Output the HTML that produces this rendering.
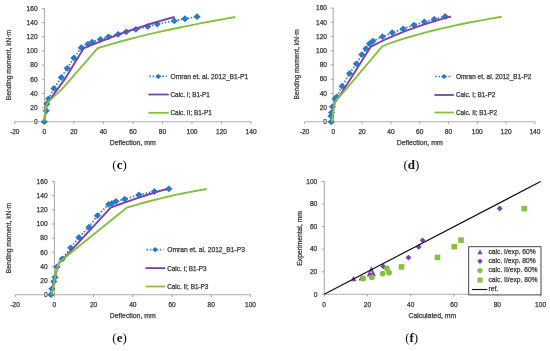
<!DOCTYPE html>
<html><head><meta charset="utf-8"><style>
html,body{margin:0;padding:0;background:#fff;}
svg{display:block;will-change:transform;}
text{font-family:"Liberation Sans", sans-serif;fill:#383838;stroke:#383838;stroke-width:0.25px;}
</style></head><body>
<svg width="550" height="351" viewBox="0 0 550 351">
<rect width="550" height="351" fill="#fff"/>
<line x1="44.5" y1="8.5" x2="44.5" y2="121.7" stroke="#acacac" stroke-width="1.1"/>
<line x1="41.9" y1="121.7" x2="44.5" y2="121.7" stroke="#acacac" stroke-width="1.1"/>
<text x="37.6" y="124" font-size="6.6" text-anchor="end">0</text>
<line x1="41.9" y1="107.55" x2="44.5" y2="107.55" stroke="#acacac" stroke-width="1.1"/>
<text x="37.6" y="109.85" font-size="6.6" text-anchor="end">20</text>
<line x1="41.9" y1="93.4" x2="44.5" y2="93.4" stroke="#acacac" stroke-width="1.1"/>
<text x="37.6" y="95.7" font-size="6.6" text-anchor="end">40</text>
<line x1="41.9" y1="79.25" x2="44.5" y2="79.25" stroke="#acacac" stroke-width="1.1"/>
<text x="37.6" y="81.55" font-size="6.6" text-anchor="end">60</text>
<line x1="41.9" y1="65.1" x2="44.5" y2="65.1" stroke="#acacac" stroke-width="1.1"/>
<text x="37.6" y="67.4" font-size="6.6" text-anchor="end">80</text>
<line x1="41.9" y1="50.95" x2="44.5" y2="50.95" stroke="#acacac" stroke-width="1.1"/>
<text x="37.6" y="53.25" font-size="6.6" text-anchor="end">100</text>
<line x1="41.9" y1="36.8" x2="44.5" y2="36.8" stroke="#acacac" stroke-width="1.1"/>
<text x="37.6" y="39.1" font-size="6.6" text-anchor="end">120</text>
<line x1="41.9" y1="22.65" x2="44.5" y2="22.65" stroke="#acacac" stroke-width="1.1"/>
<text x="37.6" y="24.95" font-size="6.6" text-anchor="end">140</text>
<line x1="41.9" y1="8.5" x2="44.5" y2="8.5" stroke="#acacac" stroke-width="1.1"/>
<text x="37.6" y="10.8" font-size="6.6" text-anchor="end">160</text>
<line x1="14.76" y1="121.7" x2="251.08" y2="121.7" stroke="#acacac" stroke-width="1.1"/>
<line x1="14.76" y1="121.7" x2="14.76" y2="123.9" stroke="#acacac" stroke-width="1.1"/>
<text x="14.76" y="133.6" font-size="6.6" text-anchor="middle">-20</text>
<line x1="44.3" y1="121.7" x2="44.3" y2="123.9" stroke="#acacac" stroke-width="1.1"/>
<text x="44.3" y="133.6" font-size="6.6" text-anchor="middle">0</text>
<line x1="73.84" y1="121.7" x2="73.84" y2="123.9" stroke="#acacac" stroke-width="1.1"/>
<text x="73.84" y="133.6" font-size="6.6" text-anchor="middle">20</text>
<line x1="103.38" y1="121.7" x2="103.38" y2="123.9" stroke="#acacac" stroke-width="1.1"/>
<text x="103.38" y="133.6" font-size="6.6" text-anchor="middle">40</text>
<line x1="132.92" y1="121.7" x2="132.92" y2="123.9" stroke="#acacac" stroke-width="1.1"/>
<text x="132.92" y="133.6" font-size="6.6" text-anchor="middle">60</text>
<line x1="162.46" y1="121.7" x2="162.46" y2="123.9" stroke="#acacac" stroke-width="1.1"/>
<text x="162.46" y="133.6" font-size="6.6" text-anchor="middle">80</text>
<line x1="192" y1="121.7" x2="192" y2="123.9" stroke="#acacac" stroke-width="1.1"/>
<text x="192" y="133.6" font-size="6.6" text-anchor="middle">100</text>
<line x1="221.54" y1="121.7" x2="221.54" y2="123.9" stroke="#acacac" stroke-width="1.1"/>
<text x="221.54" y="133.6" font-size="6.6" text-anchor="middle">120</text>
<line x1="251.08" y1="121.7" x2="251.08" y2="123.9" stroke="#acacac" stroke-width="1.1"/>
<text x="251.08" y="133.6" font-size="6.6" text-anchor="middle">140</text>
<polyline points="44.3,121.7 46.22,110.73 46.81,104.01 48.58,98.85 53.9,88.45 61.29,77.48 67.19,68.28 73.84,58.02 81.22,47.77 87.87,44.23 92.3,42.11 100.43,39.28 108.55,36.8 118.15,34.32 126.27,31.85 135.87,29.37 147.69,26.54 157.29,24.06 174.28,20.88 184.91,18.76 197.02,16.64" fill="none" stroke="#2a7ac8" stroke-width="1.7" stroke-linejoin="round" stroke-dasharray="1.5,1.8"/>
<path d="M40.7,121.7 L44.3,118.3 L47.9,121.7 L44.3,125.1 Z" fill="#2a7ac8"/>
<path d="M42.62,110.73 L46.22,107.33 L49.82,110.73 L46.22,114.13 Z" fill="#2a7ac8"/>
<path d="M43.21,104.01 L46.81,100.61 L50.41,104.01 L46.81,107.41 Z" fill="#2a7ac8"/>
<path d="M44.98,98.85 L48.58,95.45 L52.18,98.85 L48.58,102.25 Z" fill="#2a7ac8"/>
<path d="M50.3,88.45 L53.9,85.05 L57.5,88.45 L53.9,91.85 Z" fill="#2a7ac8"/>
<path d="M57.69,77.48 L61.29,74.08 L64.89,77.48 L61.29,80.88 Z" fill="#2a7ac8"/>
<path d="M63.59,68.28 L67.19,64.88 L70.79,68.28 L67.19,71.68 Z" fill="#2a7ac8"/>
<path d="M70.24,58.02 L73.84,54.62 L77.44,58.02 L73.84,61.42 Z" fill="#2a7ac8"/>
<path d="M77.62,47.77 L81.22,44.37 L84.82,47.77 L81.22,51.17 Z" fill="#2a7ac8"/>
<path d="M84.27,44.23 L87.87,40.83 L91.47,44.23 L87.87,47.63 Z" fill="#2a7ac8"/>
<path d="M88.7,42.11 L92.3,38.71 L95.9,42.11 L92.3,45.51 Z" fill="#2a7ac8"/>
<path d="M96.83,39.28 L100.43,35.88 L104.03,39.28 L100.43,42.68 Z" fill="#2a7ac8"/>
<path d="M104.95,36.8 L108.55,33.4 L112.15,36.8 L108.55,40.2 Z" fill="#2a7ac8"/>
<path d="M114.55,34.32 L118.15,30.92 L121.75,34.32 L118.15,37.72 Z" fill="#2a7ac8"/>
<path d="M122.67,31.85 L126.27,28.45 L129.87,31.85 L126.27,35.25 Z" fill="#2a7ac8"/>
<path d="M132.27,29.37 L135.87,25.97 L139.47,29.37 L135.87,32.77 Z" fill="#2a7ac8"/>
<path d="M144.09,26.54 L147.69,23.14 L151.29,26.54 L147.69,29.94 Z" fill="#2a7ac8"/>
<path d="M153.69,24.06 L157.29,20.66 L160.89,24.06 L157.29,27.46 Z" fill="#2a7ac8"/>
<path d="M170.68,20.88 L174.28,17.48 L177.88,20.88 L174.28,24.28 Z" fill="#2a7ac8"/>
<path d="M181.31,18.76 L184.91,15.36 L188.51,18.76 L184.91,22.16 Z" fill="#2a7ac8"/>
<path d="M193.42,16.64 L197.02,13.24 L200.62,16.64 L197.02,20.04 Z" fill="#2a7ac8"/>
<polyline points="44.3,121.7 44.89,114.62 45.48,108.97 46.66,104.37 48.73,101.39 64.53,79.39 83.59,48.47 90,45.75 96.42,43.1 102.86,40.52 109.31,38.02 115.77,35.59 122.25,33.23 128.74,30.94 135.25,28.73 141.77,26.59 148.3,24.52 154.85,22.53 161.41,20.61 167.98,18.76 174.57,16.99" fill="none" stroke="#7942a8" stroke-width="1.9" stroke-linejoin="round"/>
<polyline points="44.3,121.7 44.89,114.62 45.48,108.97 46.66,104.37 48.73,101.39 62.02,89.16 97.47,48.26 105.11,45.91 113.08,43.58 121.39,41.26 130.05,38.97 139.04,36.69 148.37,34.43 158.05,32.18 168.06,29.96 178.41,27.75 189.11,25.56 200.14,23.39 211.51,21.24 223.22,19.11 235.28,16.99" fill="none" stroke="#86c040" stroke-width="1.9" stroke-linejoin="round"/>
<text transform="translate(10.9,65) rotate(-90)" font-size="6.7" text-anchor="middle">Bending moment, kN·m</text>
<text x="132.7" y="145" font-size="6.9" text-anchor="middle">Deflection, mm</text>
<line x1="149.3" y1="76.4" x2="166.9" y2="76.4" stroke="#2a7ac8" stroke-width="1.7" stroke-dasharray="1.5,1.8"/>
<path d="M155.35,76.4 L158.3,73.8 L161.25,76.4 L158.3,79 Z" fill="#2a7ac8"/>
<line x1="148.4" y1="94.5" x2="168.7" y2="94.5" stroke="#7942a8" stroke-width="1.8"/>
<line x1="148.4" y1="112.8" x2="168.7" y2="112.8" stroke="#86c040" stroke-width="1.8"/>
<text x="170.5" y="78.8" font-size="6.7" text-anchor="start">Omran et. al. 2012_B1-P1</text>
<text x="170.5" y="96.9" font-size="6.4" text-anchor="start">Calc. I; B1-P1</text>
<text x="170.5" y="115.2" font-size="6.4" text-anchor="start">Calc. II; B1-P1</text>
<text x="119.6" y="169.2" style='font-family:"Liberation Serif", serif;font-size:13px;fill:#111;stroke:none' text-anchor="middle" fill="#111">(<tspan font-weight="bold">c</tspan>)</text>
<line x1="333.2" y1="8.04" x2="333.2" y2="121.8" stroke="#acacac" stroke-width="1.1"/>
<line x1="330.6" y1="121.8" x2="333.2" y2="121.8" stroke="#acacac" stroke-width="1.1"/>
<text x="327" y="124.1" font-size="6.6" text-anchor="end">0</text>
<line x1="330.6" y1="107.58" x2="333.2" y2="107.58" stroke="#acacac" stroke-width="1.1"/>
<text x="327" y="109.88" font-size="6.6" text-anchor="end">20</text>
<line x1="330.6" y1="93.36" x2="333.2" y2="93.36" stroke="#acacac" stroke-width="1.1"/>
<text x="327" y="95.66" font-size="6.6" text-anchor="end">40</text>
<line x1="330.6" y1="79.14" x2="333.2" y2="79.14" stroke="#acacac" stroke-width="1.1"/>
<text x="327" y="81.44" font-size="6.6" text-anchor="end">60</text>
<line x1="330.6" y1="64.92" x2="333.2" y2="64.92" stroke="#acacac" stroke-width="1.1"/>
<text x="327" y="67.22" font-size="6.6" text-anchor="end">80</text>
<line x1="330.6" y1="50.7" x2="333.2" y2="50.7" stroke="#acacac" stroke-width="1.1"/>
<text x="327" y="53" font-size="6.6" text-anchor="end">100</text>
<line x1="330.6" y1="36.48" x2="333.2" y2="36.48" stroke="#acacac" stroke-width="1.1"/>
<text x="327" y="38.78" font-size="6.6" text-anchor="end">120</text>
<line x1="330.6" y1="22.26" x2="333.2" y2="22.26" stroke="#acacac" stroke-width="1.1"/>
<text x="327" y="24.56" font-size="6.6" text-anchor="end">140</text>
<line x1="330.6" y1="8.04" x2="333.2" y2="8.04" stroke="#acacac" stroke-width="1.1"/>
<text x="327" y="10.34" font-size="6.6" text-anchor="end">160</text>
<line x1="304.5" y1="121.8" x2="534.9" y2="121.8" stroke="#acacac" stroke-width="1.1"/>
<line x1="304.5" y1="121.8" x2="304.5" y2="124" stroke="#acacac" stroke-width="1.1"/>
<text x="304.5" y="133.6" font-size="6.6" text-anchor="middle">-20</text>
<line x1="333.3" y1="121.8" x2="333.3" y2="124" stroke="#acacac" stroke-width="1.1"/>
<text x="333.3" y="133.6" font-size="6.6" text-anchor="middle">0</text>
<line x1="362.1" y1="121.8" x2="362.1" y2="124" stroke="#acacac" stroke-width="1.1"/>
<text x="362.1" y="133.6" font-size="6.6" text-anchor="middle">20</text>
<line x1="390.9" y1="121.8" x2="390.9" y2="124" stroke="#acacac" stroke-width="1.1"/>
<text x="390.9" y="133.6" font-size="6.6" text-anchor="middle">40</text>
<line x1="419.7" y1="121.8" x2="419.7" y2="124" stroke="#acacac" stroke-width="1.1"/>
<text x="419.7" y="133.6" font-size="6.6" text-anchor="middle">60</text>
<line x1="448.5" y1="121.8" x2="448.5" y2="124" stroke="#acacac" stroke-width="1.1"/>
<text x="448.5" y="133.6" font-size="6.6" text-anchor="middle">80</text>
<line x1="477.3" y1="121.8" x2="477.3" y2="124" stroke="#acacac" stroke-width="1.1"/>
<text x="477.3" y="133.6" font-size="6.6" text-anchor="middle">100</text>
<line x1="506.1" y1="121.8" x2="506.1" y2="124" stroke="#acacac" stroke-width="1.1"/>
<text x="506.1" y="133.6" font-size="6.6" text-anchor="middle">120</text>
<line x1="534.9" y1="121.8" x2="534.9" y2="124" stroke="#acacac" stroke-width="1.1"/>
<text x="534.9" y="133.6" font-size="6.6" text-anchor="middle">140</text>
<polyline points="331.14,121.8 331,116.11 331.57,112.56 332.44,106.87 335.03,98.69 336.76,96.91 342.08,86.25 349.57,73.45 356.34,63.85 361.81,54.61 365.99,48.57 369.59,43.59 372.9,41.1 382.4,36.69 392.2,32.71 403.14,28.8 413.94,25.1 424.31,21.83 434.24,19.2 445.19,16.43" fill="none" stroke="#2a7ac8" stroke-width="1.7" stroke-linejoin="round" stroke-dasharray="1.5,1.8"/>
<path d="M327.54,121.8 L331.14,118.4 L334.74,121.8 L331.14,125.2 Z" fill="#2a7ac8"/>
<path d="M327.4,116.11 L331,112.71 L334.6,116.11 L331,119.51 Z" fill="#2a7ac8"/>
<path d="M327.97,112.56 L331.57,109.16 L335.17,112.56 L331.57,115.96 Z" fill="#2a7ac8"/>
<path d="M328.84,106.87 L332.44,103.47 L336.04,106.87 L332.44,110.27 Z" fill="#2a7ac8"/>
<path d="M331.43,98.69 L335.03,95.29 L338.63,98.69 L335.03,102.09 Z" fill="#2a7ac8"/>
<path d="M333.16,96.91 L336.76,93.51 L340.36,96.91 L336.76,100.31 Z" fill="#2a7ac8"/>
<path d="M338.48,86.25 L342.08,82.85 L345.68,86.25 L342.08,89.65 Z" fill="#2a7ac8"/>
<path d="M345.97,73.45 L349.57,70.05 L353.17,73.45 L349.57,76.85 Z" fill="#2a7ac8"/>
<path d="M352.74,63.85 L356.34,60.45 L359.94,63.85 L356.34,67.25 Z" fill="#2a7ac8"/>
<path d="M358.21,54.61 L361.81,51.21 L365.41,54.61 L361.81,58.01 Z" fill="#2a7ac8"/>
<path d="M362.39,48.57 L365.99,45.17 L369.59,48.57 L365.99,51.97 Z" fill="#2a7ac8"/>
<path d="M365.99,43.59 L369.59,40.19 L373.19,43.59 L369.59,46.99 Z" fill="#2a7ac8"/>
<path d="M369.3,41.1 L372.9,37.7 L376.5,41.1 L372.9,44.5 Z" fill="#2a7ac8"/>
<path d="M378.8,36.69 L382.4,33.29 L386,36.69 L382.4,40.09 Z" fill="#2a7ac8"/>
<path d="M388.6,32.71 L392.2,29.31 L395.8,32.71 L392.2,36.11 Z" fill="#2a7ac8"/>
<path d="M399.54,28.8 L403.14,25.4 L406.74,28.8 L403.14,32.2 Z" fill="#2a7ac8"/>
<path d="M410.34,25.1 L413.94,21.7 L417.54,25.1 L413.94,28.5 Z" fill="#2a7ac8"/>
<path d="M420.71,21.83 L424.31,18.43 L427.91,21.83 L424.31,25.23 Z" fill="#2a7ac8"/>
<path d="M430.64,19.2 L434.24,15.8 L437.84,19.2 L434.24,22.6 Z" fill="#2a7ac8"/>
<path d="M441.59,16.43 L445.19,13.03 L448.79,16.43 L445.19,19.83 Z" fill="#2a7ac8"/>
<polyline points="331.86,121.8 333.88,106.16 335.03,102.25 336.9,99.19 339.06,96.91 370.74,46.79 375.3,44.38 380.05,42 384.97,39.67 390.07,37.37 395.36,35.11 400.82,32.89 406.46,30.71 412.27,28.57 418.27,26.46 424.45,24.39 430.8,22.36 437.34,20.37 444.05,18.42 450.95,16.5" fill="none" stroke="#7942a8" stroke-width="1.9" stroke-linejoin="round"/>
<polyline points="331.86,121.8 333.88,106.16 335.03,102.25 336.9,99.19 339.06,96.91 344.82,90.52 382.26,46.29 388.21,43.98 394.55,41.7 401.29,39.45 408.43,37.23 415.97,35.04 423.9,32.88 432.23,30.75 440.95,28.65 450.07,26.59 459.59,24.55 469.51,22.55 479.82,20.57 490.53,18.63 501.64,16.71" fill="none" stroke="#86c040" stroke-width="1.9" stroke-linejoin="round"/>
<text transform="translate(299.3,64.3) rotate(-90)" font-size="6.7" text-anchor="middle">Bending moment, kN·m</text>
<text x="419.7" y="145" font-size="6.9" text-anchor="middle">Deflection, mm</text>
<line x1="435.3" y1="76.5" x2="452.1" y2="76.5" stroke="#2a7ac8" stroke-width="1.7" stroke-dasharray="1.5,1.8"/>
<path d="M440.95,76.5 L443.9,73.9 L446.85,76.5 L443.9,79.1 Z" fill="#2a7ac8"/>
<line x1="434.4" y1="95" x2="453.9" y2="95" stroke="#7942a8" stroke-width="1.8"/>
<line x1="434.4" y1="112.5" x2="453.9" y2="112.5" stroke="#86c040" stroke-width="1.8"/>
<text x="455.9" y="78.9" font-size="6.5" text-anchor="start">Omran et. al. 2012_B1-P2</text>
<text x="455.9" y="97.4" font-size="6.4" text-anchor="start">Calc. I; B1-P2</text>
<text x="455.9" y="114.9" font-size="6.4" text-anchor="start">Calc. II; B1-P2</text>
<text x="411.4" y="169.2" style='font-family:"Liberation Serif", serif;font-size:13px;fill:#111;stroke:none' text-anchor="middle" fill="#111">(<tspan font-weight="bold">d</tspan>)</text>
<line x1="54.4" y1="181.5" x2="54.4" y2="294.7" stroke="#acacac" stroke-width="1.1"/>
<line x1="51.8" y1="294.7" x2="54.4" y2="294.7" stroke="#acacac" stroke-width="1.1"/>
<text x="47.6" y="297" font-size="6.6" text-anchor="end">0</text>
<line x1="51.8" y1="280.55" x2="54.4" y2="280.55" stroke="#acacac" stroke-width="1.1"/>
<text x="47.6" y="282.85" font-size="6.6" text-anchor="end">20</text>
<line x1="51.8" y1="266.4" x2="54.4" y2="266.4" stroke="#acacac" stroke-width="1.1"/>
<text x="47.6" y="268.7" font-size="6.6" text-anchor="end">40</text>
<line x1="51.8" y1="252.25" x2="54.4" y2="252.25" stroke="#acacac" stroke-width="1.1"/>
<text x="47.6" y="254.55" font-size="6.6" text-anchor="end">60</text>
<line x1="51.8" y1="238.1" x2="54.4" y2="238.1" stroke="#acacac" stroke-width="1.1"/>
<text x="47.6" y="240.4" font-size="6.6" text-anchor="end">80</text>
<line x1="51.8" y1="223.95" x2="54.4" y2="223.95" stroke="#acacac" stroke-width="1.1"/>
<text x="47.6" y="226.25" font-size="6.6" text-anchor="end">100</text>
<line x1="51.8" y1="209.8" x2="54.4" y2="209.8" stroke="#acacac" stroke-width="1.1"/>
<text x="47.6" y="212.1" font-size="6.6" text-anchor="end">120</text>
<line x1="51.8" y1="195.65" x2="54.4" y2="195.65" stroke="#acacac" stroke-width="1.1"/>
<text x="47.6" y="197.95" font-size="6.6" text-anchor="end">140</text>
<line x1="51.8" y1="181.5" x2="54.4" y2="181.5" stroke="#acacac" stroke-width="1.1"/>
<text x="47.6" y="183.8" font-size="6.6" text-anchor="end">160</text>
<line x1="15.18" y1="294.7" x2="250.5" y2="294.7" stroke="#acacac" stroke-width="1.1"/>
<line x1="15.18" y1="294.7" x2="15.18" y2="296.9" stroke="#acacac" stroke-width="1.1"/>
<text x="15.18" y="306.9" font-size="6.6" text-anchor="middle">-20</text>
<line x1="54.4" y1="294.7" x2="54.4" y2="296.9" stroke="#acacac" stroke-width="1.1"/>
<text x="54.4" y="306.9" font-size="6.6" text-anchor="middle">0</text>
<line x1="93.62" y1="294.7" x2="93.62" y2="296.9" stroke="#acacac" stroke-width="1.1"/>
<text x="93.62" y="306.9" font-size="6.6" text-anchor="middle">20</text>
<line x1="132.84" y1="294.7" x2="132.84" y2="296.9" stroke="#acacac" stroke-width="1.1"/>
<text x="132.84" y="306.9" font-size="6.6" text-anchor="middle">40</text>
<line x1="172.06" y1="294.7" x2="172.06" y2="296.9" stroke="#acacac" stroke-width="1.1"/>
<text x="172.06" y="306.9" font-size="6.6" text-anchor="middle">60</text>
<line x1="211.28" y1="294.7" x2="211.28" y2="296.9" stroke="#acacac" stroke-width="1.1"/>
<text x="211.28" y="306.9" font-size="6.6" text-anchor="middle">80</text>
<line x1="250.5" y1="294.7" x2="250.5" y2="296.9" stroke="#acacac" stroke-width="1.1"/>
<text x="250.5" y="306.9" font-size="6.6" text-anchor="middle">100</text>
<polyline points="50.87,294.7 51.85,288.83 53.81,281.54 54.99,277.3 56.95,266.9 62.24,258.9 70.68,247.79 78.91,237.39 88.91,227.2 97.35,215.67 108.72,204.28 111.86,203.5 115.98,201.31 124.6,199.19 138.92,194.8 154.41,191.48 168.92,188.86" fill="none" stroke="#2a7ac8" stroke-width="1.7" stroke-linejoin="round" stroke-dasharray="1.5,1.8"/>
<path d="M47.27,294.7 L50.87,291.3 L54.47,294.7 L50.87,298.1 Z" fill="#2a7ac8"/>
<path d="M48.25,288.83 L51.85,285.43 L55.45,288.83 L51.85,292.23 Z" fill="#2a7ac8"/>
<path d="M50.21,281.54 L53.81,278.14 L57.41,281.54 L53.81,284.94 Z" fill="#2a7ac8"/>
<path d="M51.39,277.3 L54.99,273.9 L58.59,277.3 L54.99,280.7 Z" fill="#2a7ac8"/>
<path d="M53.35,266.9 L56.95,263.5 L60.55,266.9 L56.95,270.3 Z" fill="#2a7ac8"/>
<path d="M58.64,258.9 L62.24,255.5 L65.84,258.9 L62.24,262.3 Z" fill="#2a7ac8"/>
<path d="M67.08,247.79 L70.68,244.39 L74.28,247.79 L70.68,251.19 Z" fill="#2a7ac8"/>
<path d="M75.31,237.39 L78.91,233.99 L82.51,237.39 L78.91,240.79 Z" fill="#2a7ac8"/>
<path d="M85.31,227.2 L88.91,223.8 L92.51,227.2 L88.91,230.6 Z" fill="#2a7ac8"/>
<path d="M93.75,215.67 L97.35,212.27 L100.95,215.67 L97.35,219.07 Z" fill="#2a7ac8"/>
<path d="M105.12,204.28 L108.72,200.88 L112.32,204.28 L108.72,207.68 Z" fill="#2a7ac8"/>
<path d="M108.26,203.5 L111.86,200.1 L115.46,203.5 L111.86,206.9 Z" fill="#2a7ac8"/>
<path d="M112.38,201.31 L115.98,197.91 L119.58,201.31 L115.98,204.71 Z" fill="#2a7ac8"/>
<path d="M121,199.19 L124.6,195.79 L128.2,199.19 L124.6,202.59 Z" fill="#2a7ac8"/>
<path d="M135.32,194.8 L138.92,191.4 L142.52,194.8 L138.92,198.2 Z" fill="#2a7ac8"/>
<path d="M150.81,191.48 L154.41,188.08 L158.01,191.48 L154.41,194.88 Z" fill="#2a7ac8"/>
<path d="M165.32,188.86 L168.92,185.46 L172.52,188.86 L168.92,192.26 Z" fill="#2a7ac8"/>
<polyline points="51.46,294.7 54.4,280.55 56.75,269.94 58.13,264.99 59.89,261.45 64.01,258.26 110.68,207.68 115.32,205.93 119.87,204.25 124.34,202.64 128.71,201.08 133,199.59 137.19,198.16 141.3,196.79 145.32,195.49 149.24,194.25 153.08,193.08 156.83,191.96 160.5,190.91 164.07,189.92 167.55,189" fill="none" stroke="#7942a8" stroke-width="1.9" stroke-linejoin="round"/>
<polyline points="51.46,294.7 54.4,280.55 56.75,269.94 58.13,264.99 59.89,261.45 64.01,258.26 126.76,207.68 132.4,205.98 138.05,204.34 143.71,202.75 149.38,201.22 155.07,199.74 160.76,198.33 166.47,196.96 172.19,195.66 177.92,194.41 183.67,193.21 189.43,192.08 195.2,190.99 200.98,189.97 206.77,189" fill="none" stroke="#86c040" stroke-width="1.9" stroke-linejoin="round"/>
<text transform="translate(11,238) rotate(-90)" font-size="6.7" text-anchor="middle">Bending moment, kN·m</text>
<text x="132.8" y="318.1" font-size="6.9" text-anchor="middle">Deflection, mm</text>
<line x1="146.5" y1="249.7" x2="163.4" y2="249.7" stroke="#2a7ac8" stroke-width="1.7" stroke-dasharray="1.5,1.8"/>
<path d="M152.2,249.7 L155.15,247.1 L158.1,249.7 L155.15,252.3 Z" fill="#2a7ac8"/>
<line x1="145.6" y1="268.1" x2="165.2" y2="268.1" stroke="#7942a8" stroke-width="1.8"/>
<line x1="145.6" y1="286.5" x2="165.2" y2="286.5" stroke="#86c040" stroke-width="1.8"/>
<text x="167.2" y="252.1" font-size="6.7" text-anchor="start">Omran et. al. 2012_B1-P3</text>
<text x="167.2" y="270.5" font-size="6.4" text-anchor="start">Calc. I; B1-P3</text>
<text x="167.2" y="288.9" font-size="6.4" text-anchor="start">Calc. II; B1-P3</text>
<text x="119.6" y="341.9" style='font-family:"Liberation Serif", serif;font-size:13px;fill:#111;stroke:none' text-anchor="middle" fill="#111">(<tspan font-weight="bold">e</tspan>)</text>
<line x1="324.3" y1="181.5" x2="324.3" y2="294.3" stroke="#acacac" stroke-width="1.1"/>
<line x1="321.7" y1="294.3" x2="324.3" y2="294.3" stroke="#acacac" stroke-width="1.1"/>
<text x="317.3" y="296.6" font-size="6.6" text-anchor="end">0</text>
<line x1="321.7" y1="271.74" x2="324.3" y2="271.74" stroke="#acacac" stroke-width="1.1"/>
<text x="317.3" y="274.04" font-size="6.6" text-anchor="end">20</text>
<line x1="321.7" y1="249.18" x2="324.3" y2="249.18" stroke="#acacac" stroke-width="1.1"/>
<text x="317.3" y="251.48" font-size="6.6" text-anchor="end">40</text>
<line x1="321.7" y1="226.62" x2="324.3" y2="226.62" stroke="#acacac" stroke-width="1.1"/>
<text x="317.3" y="228.92" font-size="6.6" text-anchor="end">60</text>
<line x1="321.7" y1="204.06" x2="324.3" y2="204.06" stroke="#acacac" stroke-width="1.1"/>
<text x="317.3" y="206.36" font-size="6.6" text-anchor="end">80</text>
<line x1="321.7" y1="181.5" x2="324.3" y2="181.5" stroke="#acacac" stroke-width="1.1"/>
<text x="317.3" y="183.8" font-size="6.6" text-anchor="end">100</text>
<line x1="324.2" y1="294.3" x2="540.6" y2="294.3" stroke="#acacac" stroke-width="1.1"/>
<line x1="324.2" y1="294.3" x2="324.2" y2="296.5" stroke="#acacac" stroke-width="1.1"/>
<text x="324.2" y="306.8" font-size="6.6" text-anchor="middle">0</text>
<line x1="367.48" y1="294.3" x2="367.48" y2="296.5" stroke="#acacac" stroke-width="1.1"/>
<text x="367.48" y="306.8" font-size="6.6" text-anchor="middle">20</text>
<line x1="410.76" y1="294.3" x2="410.76" y2="296.5" stroke="#acacac" stroke-width="1.1"/>
<text x="410.76" y="306.8" font-size="6.6" text-anchor="middle">40</text>
<line x1="454.04" y1="294.3" x2="454.04" y2="296.5" stroke="#acacac" stroke-width="1.1"/>
<text x="454.04" y="306.8" font-size="6.6" text-anchor="middle">60</text>
<line x1="497.32" y1="294.3" x2="497.32" y2="296.5" stroke="#acacac" stroke-width="1.1"/>
<text x="497.32" y="306.8" font-size="6.6" text-anchor="middle">80</text>
<line x1="540.6" y1="294.3" x2="540.6" y2="296.5" stroke="#acacac" stroke-width="1.1"/>
<text x="540.6" y="306.8" font-size="6.6" text-anchor="middle">100</text>
<path d="M353.6,275.96 L356.6,281.36 L350.6,281.36 Z" fill="#7942a8"/>
<path d="M361.2,275.58 L364,280.62 L358.4,280.62 Z" fill="#7942a8"/>
<path d="M371.3,266.2 L375.8,276.2 L366.8,276.6 Z" fill="#7942a8"/>
<rect x="370" y="271.6" width="2.2" height="1.1" fill="#fff" opacity="0.85"/>
<path d="M380.4,266.4 L383.3,263.5 L386.2,266.4 L383.3,269.3 Z" fill="#7942a8"/>
<path d="M405.6,257.6 L408.5,254.7 L411.4,257.6 L408.5,260.5 Z" fill="#7942a8"/>
<path d="M415.8,246.9 L418.7,244 L421.6,246.9 L418.7,249.8 Z" fill="#7942a8"/>
<path d="M419.7,240.3 L422.6,237.4 L425.5,240.3 L422.6,243.2 Z" fill="#7942a8"/>
<path d="M496.8,208.5 L499.7,205.6 L502.6,208.5 L499.7,211.4 Z" fill="#7942a8"/>
<circle cx="363.3" cy="278.5" r="2.9" fill="#86c040"/>
<circle cx="371.8" cy="277.3" r="2.9" fill="#86c040"/>
<circle cx="382.7" cy="273.6" r="2.9" fill="#86c040"/>
<circle cx="386.9" cy="268.5" r="2.9" fill="#86c040"/>
<circle cx="389.1" cy="272.7" r="2.9" fill="#86c040"/>
<rect x="398.7" y="264.1" width="5.6" height="5.6" fill="#86c040"/>
<rect x="434.7" y="254.6" width="5.6" height="5.6" fill="#86c040"/>
<rect x="451.5" y="243.9" width="5.6" height="5.6" fill="#86c040"/>
<rect x="458.2" y="237.4" width="5.6" height="5.6" fill="#86c040"/>
<rect x="521.4" y="205.8" width="5.6" height="5.6" fill="#86c040"/>
<line x1="324.2" y1="294.3" x2="540.6" y2="181.5" stroke="#111" stroke-width="1.2"/>
<text transform="translate(302.2,238.4) rotate(-90)" font-size="6.8" text-anchor="middle">Experimental, mm</text>
<text x="432.4" y="317.9" font-size="6.9" text-anchor="middle">Calculated, mm</text>
<rect x="468.7" y="246.7" width="72.3" height="48.2" fill="#fff" stroke="#333" stroke-width="0.9"/>
<path d="M480,249.48 L482.7,254.34 L477.3,254.34 Z" fill="#7942a8"/>
<path d="M477.3,261.3 L480,258.6 L482.7,261.3 L480,264 Z" fill="#7942a8"/>
<circle cx="480" cy="270.5" r="2.6" fill="#86c040"/>
<rect x="477.5" y="277.5" width="5.0" height="5.0" fill="#86c040"/>
<line x1="472" y1="289.5" x2="487.3" y2="289.5" stroke="#111" stroke-width="1.1"/>
<text x="488.5" y="253.7" font-size="6.7" text-anchor="start">calc. I/exp. 60%</text>
<text x="488.5" y="262.8" font-size="6.7" text-anchor="start">calc. I/exp. 80%</text>
<text x="488.5" y="272" font-size="6.7" text-anchor="start">calc. II/exp. 60%</text>
<text x="488.5" y="281.5" font-size="6.7" text-anchor="start">calc. II/exp. 80%</text>
<text x="488.5" y="291" font-size="6.7" text-anchor="start">ref.</text>
<text x="411.7" y="341.9" style='font-family:"Liberation Serif", serif;font-size:13px;fill:#111;stroke:none' text-anchor="middle" fill="#111">(<tspan font-weight="bold">f</tspan>)</text>
</svg>
</body></html>
